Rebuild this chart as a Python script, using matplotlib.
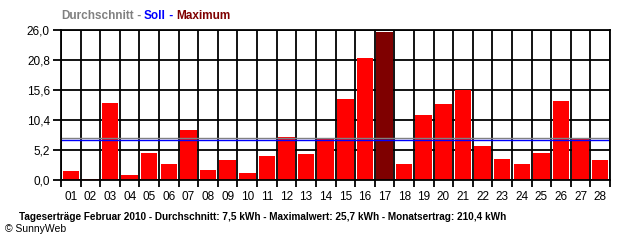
import numpy as np
import matplotlib
matplotlib.use('Agg')
import matplotlib.pyplot as plt

# Daten
days = ['01', '02', '03', '04', '05', '06', '07', '08', '09', '10', '11', '12', '13', '14',
        '15', '16', '17', '18', '19', '20', '21', '22', '23', '24', '25', '26', '27', '28']
ertrag = [1.6, 0.2, 13.4, 0.9, 4.6, 2.7, 8.7, 1.7, 3.5, 1.2, 4.2, 7.5, 4.5, 7.3,
          14.0, 21.1, 25.7, 2.8, 11.3, 13.2, 15.6, 5.9, 3.6, 2.8, 4.7, 13.7, 7.3, 3.5]
durchschnitt = 7.3
soll = 7.0
yticks = [0.0, 5.2, 10.4, 15.6, 20.8, 26.0]
ytick_labels = ['0,0', '5,2', '10,4', '15,6', '20,8', '26,0']
titel = 'Tageserträge Februar 2010 - Durchschnitt: 7,5 kWh - Maximalwert: 25,7 kWh - Monatsertrag: 210,4 kWh'
legende = [('Durchschnitt', '#808080'), (' - ', '#808080'), ('Soll', '#0000FF'),
           (' - ', '#0000FF'), ('Maximum', '#7F0000')]

plt.rcParams['font.family'] = ['Liberation Sans', 'DejaVu Sans']

fig = plt.figure(figsize=(6.4, 2.4), dpi=100)
ax = fig.add_axes([61 / 640, 1 - 180 / 240, (610 - 61) / 640, 150 / 240])

x = np.arange(len(days))
imax = int(np.argmax(ertrag))
colors = ['#FF0000'] * len(days)
colors[imax] = '#7F0000'
ax.bar(x, ertrag, width=0.84, color=colors, zorder=3)

ax.axhline(durchschnitt, color='#808080', lw=1.0, zorder=4)
ax.axhline(soll, color='#0000FF', lw=1.0, zorder=5)

ax.set_xlim(-0.5, len(days) - 0.5)
ax.set_ylim(0, 26.0)

# Gitter
for b in np.arange(len(days) + 1) - 0.5:
    ax.axvline(b, color='black', lw=1.3, zorder=1)
for t in yticks:
    ax.axhline(t, color='black', lw=1.3, zorder=1)

ax.set_yticks(yticks)
ax.set_yticklabels(ytick_labels, fontsize=8.5)
ax.set_xticks(np.arange(len(days) + 1) - 0.5, minor=False)
ax.set_xticklabels([''] * (len(days) + 1))
ax.set_xticks(x, minor=True)
ax.set_xticklabels(days, minor=True, fontsize=8.5)
ax.tick_params(axis='x', which='major', length=5, width=1.3, direction='out')
ax.tick_params(axis='x', which='minor', length=0, pad=8)
ax.tick_params(axis='y', length=6, width=1.3, direction='out', pad=2)
for s in ax.spines.values():
    s.set_linewidth(1.3)
    s.set_zorder(6)

# Legende oben
renderer = fig.canvas.get_renderer()
xpos = 61
for txt, col in legende:
    t = fig.text(xpos / 640, 1 - 16 / 240, txt, color=col, fontsize=8.5,
                 fontweight='bold', va='center')
    bb = t.get_window_extent(renderer=renderer)
    xpos += bb.width

fig.text(19 / 640, 1 - 217 / 240, titel, fontsize=7.2, fontweight='bold', va='center')
fig.text(5 / 640, 1 - 229 / 240, '© SunnyWeb', fontsize=7.5, va='center')

fig.savefig('out.png', dpi=100)
